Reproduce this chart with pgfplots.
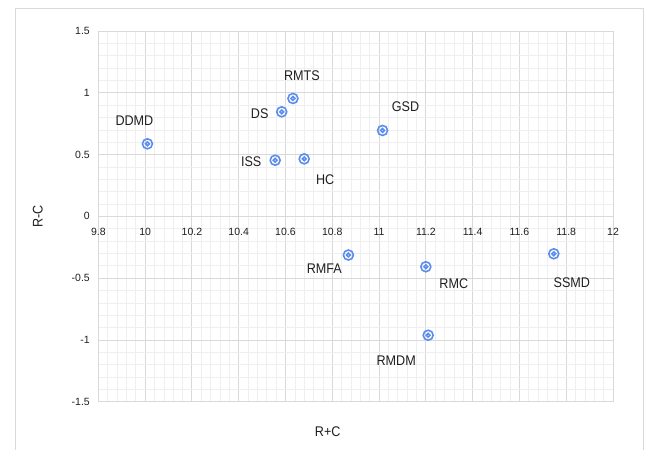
\documentclass[border=0pt]{standalone}
\usepackage{pgfplots}
\usepackage{pgfplotstable}
\pgfplotsset{compat=1.18}
\usepackage{fontspec}
\setmainfont{Liberation Sans}
\newfontfamily\labfont{Liberation Sans}[FakeStretch=0.9]
\definecolor{gridmaj}{HTML}{D9D9D9}
\definecolor{gridmin}{HTML}{EFEFEF}
\definecolor{framec}{HTML}{D9D9D9}
\definecolor{markc}{HTML}{5A8DEE}
\definecolor{txt}{HTML}{1F1F1F}
\pgfdeclareplotmark{dring}{%
  \pgfpathcircle{\pgfpointorigin}{\pgfplotmarksize}\pgfusepathqstroke
  \pgfpathcircle{\pgfpointorigin}{0.38\pgfplotmarksize}\pgfusepathqstroke}
\pgfplotstableread{
x y label dx dy
10.01 0.587 DDMD -13 23
10.584 0.846 DS -22 -2
10.632 0.954 RMTS 9 23
11.015 0.695 GSD 23 24
10.556 0.454 ISS -24 -1
10.68 0.465 HC 21 -21
10.869 -0.313 RMFA -24 -14
11.20 -0.408 RMC 28 -17
11.747 -0.303 SSMD 18 -29
11.21 -0.962 RMDM -32 -25
}\datatable
\begin{document}
\begin{tikzpicture}
\path[use as bounding box] (0,0) rectangle (648bp,450bp);
\draw[framec, line width=1bp] (15bp,-1bp) -- (15bp,441bp) -- (643bp,441bp) -- (643bp,-1bp);
\begin{axis}[
  at={(98.3bp,48.3bp)}, anchor=south west,
  scale only axis, width=514.7bp, height=370.7bp,
  xmin=9.8, xmax=12, ymin=-1.5, ymax=1.5,
  axis x line=middle, axis y line=left,
  axis line style={-, draw=gridmaj, line width=0.8bp},
  hide obscured x ticks=false, hide obscured y ticks=false,
  major tick length=0pt, minor tick length=0pt,
  xtick={9.8,10,10.2,10.4,10.6,10.8,11,11.2,11.4,11.6,11.8,12},
  xticklabels={9.8,10,10.2,10.4,10.6,10.8,11,11.2,11.4,11.6,11.8,12},
  ytick={-1.5,-1,-0.5,0,0.5,1,1.5},
  yticklabels={-1.5,-1,-0.5,0,0.5,1,1.5},
  minor x tick num=4, minor y tick num=4,
  grid=both,
  major grid style={draw=gridmaj, line width=0.8bp},
  minor grid style={draw=gridmin, line width=0.6bp},
  tick label style={font=\fontsize{10.5bp}{12bp}\selectfont, text=txt},
  x tick label style={anchor=north, yshift=-8bp},
  y tick label style={anchor=east, xshift=-5bp},
  xlabel={R+C}, ylabel={R-C},
  xlabel style={at={(axis description cs:0.4457,0)}, anchor=center, yshift=-30bp,
    font=\labfont\fontsize{14bp}{16bp}\selectfont, text=txt},
  ylabel style={at={(axis description cs:0,0.5)}, anchor=center, yshift=60.5bp,
    font=\labfont\fontsize{14bp}{16bp}\selectfont, text=txt},
  clip=false,
]
\addplot[only marks, mark=dring, mark size=5bp, mark options={draw=markc, line width=1.6bp},
  point meta=explicit symbolic,
  visualization depends on={\thisrow{dx} \as \dx},
  visualization depends on={\thisrow{dy} \as \dy},
  nodes near coords,
  every node near coord/.append style={anchor=center, xshift={\dx*1bp}, yshift={\dy*1bp},
    font=\labfont\fontsize{14bp}{16bp}\selectfont, text=txt, inner sep=0pt},
] table[x=x, y=y, meta=label] {\datatable};
\end{axis}
\end{tikzpicture}
\end{document}
